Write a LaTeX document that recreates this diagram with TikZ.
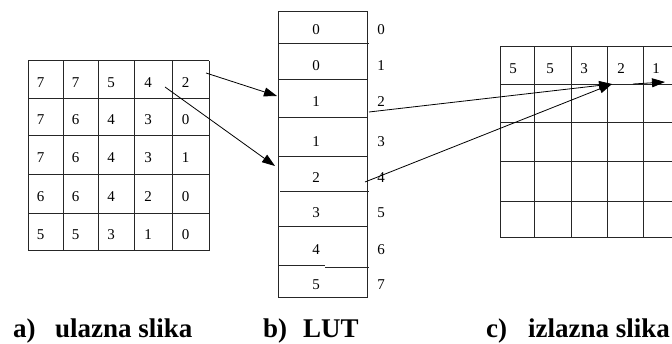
\documentclass[tikz,border=0pt]{standalone}
\usepackage{fontspec}
\setmainfont{Liberation Serif}
\usetikzlibrary{arrows.meta}
\begin{document}
\begin{tikzpicture}[x=1pt,y=-1pt,
  gridline/.style={line width=1pt, draw=black!85},
  dig/.style={inner sep=0pt, font=\fontsize{15}{15}\selectfont},
  conn/.style={line width=0.8pt, -{Triangle[length=13pt,width=9pt]}},
  caption/.style={inner sep=0pt, anchor=base west, font=\fontsize{27}{27}\selectfont\bfseries}]
\useasboundingbox (0,0) rectangle (672,344);
\clip (0,0) rectangle (672,344);
% left grid (input image)
\foreach \x in {28,63,98,134,172,209} \draw[gridline] (\x,61) -- (\x,251);
\foreach \y in {61,99,136,175,214,251} \draw[gridline] (28,\y) -- (209,\y);
\foreach \v [count=\i from 0] in {7,7,5,4,2,7,6,4,3,0,7,6,4,3,1,6,6,4,2,0,5,5,3,1,0}{
  \pgfmathtruncatemacro\rr{int(\i/5)}
  \pgfmathtruncatemacro\cc{mod(\i,5)}
  \pgfmathsetmacro\xx{{40.5,75.5,111,148,185.5}[\cc]}
  \pgfmathsetmacro\yy{{82.5,120,158,197,235}[\rr]}
  \node[dig] (L-\rr-\cc) at (\xx,\yy) {\v};
}
% LUT
\draw[gridline] (278,12) rectangle (367,298);
\foreach \y in {80,118,157,227} \draw[gridline] (278,\y) -- (367,\y);
\draw[gridline] (278,44) -- (369,44);
\draw[gridline] (280,192) -- (369,192);
\draw[gridline] (278,266) -- (325,266);
\draw[gridline] (325,267.3) -- (369,267.3);
\foreach \v/\y [count=\i from 0] in {0/30,0/66,1/102,1/142,2/178,3/213,4/250,5/285}{
  \node[dig] (T-\i) at (316,\y) {\v};
  \node[dig] (I-\i) at (381,\y) {\i};
}
% right grid (output image)
\foreach \x in {500,534,571,607,643,680} \draw[gridline] (\x,47) -- (\x,238);
\foreach \y in {47,85,123,162,202,238} \draw[gridline] (500,\y) -- (680,\y);
\foreach \v/\x [count=\i from 0] in {5/513,5/550,3/584,2/621,1/656}{
  \node[dig] (R-\i) at (\x,69) {\v};
}
% arrows
\coordinate (a1s) at (206,73);
\coordinate (a1e) at (277,96);
\coordinate (a2s) at (165,87);
\coordinate (a2e) at (275,166);
\coordinate (a3s) at (369,112);
\coordinate (a4s) at (365,182);
\coordinate (tgt) at (612,84);
\coordinate (a5s) at (633,84);
\coordinate (a5e) at (665,82);
\draw[conn] (a1s) -- (a1e);
\draw[conn] (a2s) -- (a2e);
\draw[conn] (a3s) -- (tgt);
\draw[conn] (a4s) -- (tgt);
\draw[conn] (a5s) -- (a5e);
% captions
\node[caption] (ca1) at (13,338) {a)};
\node[caption] (ca2) at (55,338) {ulazna slika};
\node[caption] (cb1) at (263,338) {b)};
\node[caption] (cb2) at (303,338) {LUT};
\node[caption] (cc1) at (486,338) {c)};
\node[caption] (cc2) at (528,338) {izlazna slika};
\end{tikzpicture}
\end{document}
